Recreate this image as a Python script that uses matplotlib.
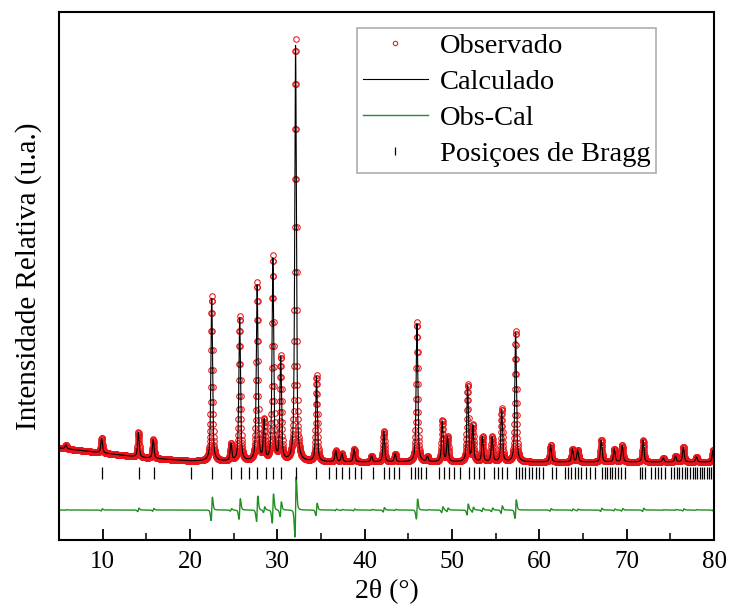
import numpy as np
import matplotlib.pyplot as plt
from matplotlib.ticker import MultipleLocator

plt.rcParams['font.family'] = ['Liberation Serif', 'DejaVu Serif']

# reflections: 2theta (deg) and height above background (a.u.)
peak_pos = [5.8, 9.9, 14.1, 15.8, 22.5, 24.7, 25.7, 27.7, 28.5, 29.5, 30.4, 32.1,
            34.5, 36.7, 37.4, 38.8, 40.8, 42.2, 43.5, 46.0, 47.2, 48.9, 49.5, 51.8,
            52.4, 53.5, 54.6, 55.7, 57.3, 61.3, 63.8, 64.4, 67.1, 68.6, 69.5, 71.9,
            74.2, 75.6, 76.5, 78.0, 79.9]
peak_height = [4, 15, 25, 19, 165, 17, 145, 178, 40, 205, 104, 422,
               86, 11, 8, 13, 6, 31, 8, 140, 5, 41, 25, 77,
               36, 25, 25, 53, 131, 17, 13, 12, 22, 13, 17, 22,
               4, 6, 15, 5, 12]

# background level
bg_pos = [5, 10, 15, 20, 30, 40, 50, 60, 70, 80]
bg_level = [92, 87, 82, 79, 78, 78, 78, 78, 78, 78]

# Bragg reflection markers
bragg_pos = [9.95, 14.14, 15.86, 20.14, 22.55, 24.73, 25.79, 26.74, 27.66, 28.65,
             29.49, 30.37, 32.09, 34.46, 35.90, 36.67, 37.43, 38.19, 38.88, 39.62,
             40.94, 42.17, 42.74, 43.31, 43.89, 45.34, 45.72, 46.10, 46.48, 47.06,
             48.51, 49.04, 49.61, 50.19, 50.87, 51.94, 52.52, 53.09, 53.66, 54.77,
             55.26, 55.76, 56.33, 57.36, 57.67, 58.01, 58.40, 58.78, 59.20, 59.58,
             59.96, 60.42, 61.49, 61.95, 62.90, 63.28, 63.66, 64.05, 64.43, 64.81,
             65.31, 65.76, 66.34, 67.22, 67.48, 67.79, 68.06, 68.32, 68.63, 69.01,
             69.39, 69.77, 71.49, 71.80, 72.14, 72.83, 73.21, 73.59, 73.97, 74.36,
             75.12, 75.43, 75.73, 76.04, 76.34, 76.65, 76.95, 77.26, 77.56, 77.79,
             78.10, 78.37, 78.63, 78.90, 79.17, 79.43, 79.70]

fwhm = 0.22
eta = 0.6
shift = 0.012      # small misfit between observed and calculated positions
diff_offset = 30
bragg_level = 67.5


def pseudo_voigt(x, x0, h):
    u = (x - x0) / fwhm
    return h * (eta / (1 + 4 * u**2) + (1 - eta) * np.exp(-4 * np.log(2) * u**2))


two_theta = np.arange(5, 80.001, 0.02)
background = np.interp(two_theta, bg_pos, bg_level)
observed = background.copy()
calculated = background.copy()
for p, h in zip(peak_pos, peak_height):
    observed += pseudo_voigt(two_theta, p, h)
    calculated += pseudo_voigt(two_theta, p - shift, h * 0.99)
difference = observed - calculated + diff_offset

fig = plt.figure(figsize=(7.29, 6.12), dpi=100)
ax = fig.add_axes([59 / 729, 72 / 612, 655 / 729, 528 / 612])

ax.plot(two_theta, observed, 'o', ms=4, mfc='none', mec='#e8141a', mew=0.75,
        label='Observado')
ax.plot(two_theta, calculated, '-', color='black', lw=0.8, label='Calculado')
ax.plot(two_theta, difference, '-', color='#1f8f1f', lw=1.0, label='Obs-Cal')
ax.plot(bragg_pos, [bragg_level] * len(bragg_pos), '|', color='black', ms=8,
        mew=0.9, label='Posiçoes de Bragg')

ax.set_xlim(5, 80)
ax.set_ylim(0, 528)
ax.xaxis.set_major_locator(MultipleLocator(10))
ax.xaxis.set_minor_locator(MultipleLocator(5))
ax.tick_params(axis='x', which='major', direction='in', length=8, width=1.3,
               labelsize=18, pad=8)
ax.tick_params(axis='x', which='minor', direction='in', length=5, width=1.1)
ax.set_yticks([])
for s in ax.spines.values():
    s.set_linewidth(1.5)

ax.set_xlabel('2θ (°)', fontsize=20, labelpad=4)
ax.set_ylabel('Intensidade Relativa (u.a.)', fontsize=21, labelpad=12)

leg = ax.legend(loc='upper left', bbox_to_anchor=(0.455, 0.97), fontsize=20.5,
                frameon=True, fancybox=False, edgecolor='#999999',
                labelspacing=0.35, handlelength=2.3, handletextpad=0.4,
                borderpad=0.2, borderaxespad=0, markerscale=0.8)
leg.get_frame().set_linewidth(1.2)

fig.savefig('out.png', dpi=100)
